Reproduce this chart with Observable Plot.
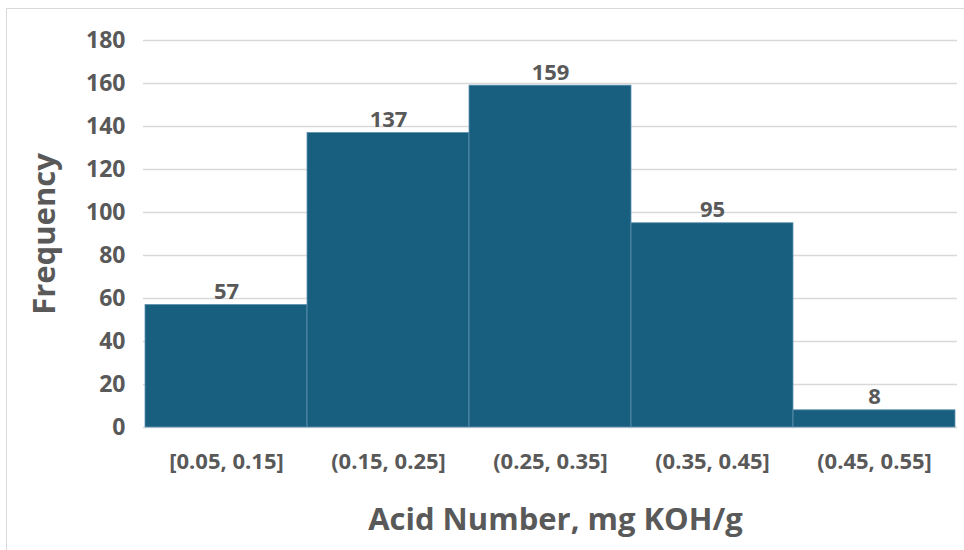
<!DOCTYPE html>
<html>
<head>
<meta charset="utf-8">
<script src="https://cdn.jsdelivr.net/npm/d3@7"></script>
<script src="https://cdn.jsdelivr.net/npm/@observablehq/plot@0.6"></script>
<style>
  html, body { margin: 0; padding: 0; background: #fff; }
  #wrap { position: relative; width: 964px; height: 550px; overflow: hidden; }
  #frame { position: absolute; left: 6px; top: 8px; width: 970px; height: 560px; border: 1px solid #d9d9d9; box-sizing: border-box; }
  #chart { position: absolute; left: 0; top: 0; }
</style>
</head>
<body>
<div id="wrap"><div id="frame"></div><div id="chart"></div></div>
<script>
const bins = ["[0.05, 0.15]", "(0.15, 0.25]", "(0.25, 0.35]", "(0.35, 0.45]", "(0.45, 0.55]"];
const counts = [57, 137, 159, 95, 8];
const yTicks = [0, 20, 40, 60, 80, 100, 120, 140, 160, 180];

const data = bins.map((b, i) => ({bin: b, count: counts[i]}));
const grey = "#595959";
const font = "'Open Sans', 'Noto Sans', sans-serif";

const plot = Plot.plot({
  width: 964,
  height: 550,
  marginLeft: 143,
  marginRight: 7,
  marginTop: 40,
  marginBottom: 123,
  style: {fontFamily: font, background: "transparent", overflow: "visible"},
  x: {type: "band", domain: bins, paddingInner: 0, paddingOuter: 0},
  y: {domain: [0, 180]},
  marks: [
    Plot.gridY(yTicks, {stroke: "#d9d9d9", strokeOpacity: 1, strokeWidth: 1.3}),
    Plot.barY(data, {x: "bin", y: "count", fill: "#185e7e", stroke: "#5f93b1", strokeWidth: 0.8}),
    Plot.text(data, {x: "bin", y: "count", text: d => String(d.count), dy: -13, fontSize: 22, fontWeight: "bold", fill: grey}),
    Plot.axisY(yTicks, {tickSize: 0, tickPadding: 18, fontSize: 23, fontWeight: "bold", fill: grey, label: null}),
    Plot.axisX({tickSize: 0, tickPadding: 26, fontSize: 22, fontWeight: "bold", fill: grey, label: null}),
    Plot.text(["Frequency"], {frameAnchor: "left", textAnchor: "middle", dx: -98, rotate: -90, fontSize: 31, fontWeight: "bold", fill: grey}),
    Plot.text(["Acid Number, mg KOH/g"], {frameAnchor: "bottom", dy: 102, dx: 5, fontSize: 31, fontWeight: "bold", fill: grey})
  ]
});
document.getElementById("chart").appendChild(plot);
</script>
</body>
</html>
